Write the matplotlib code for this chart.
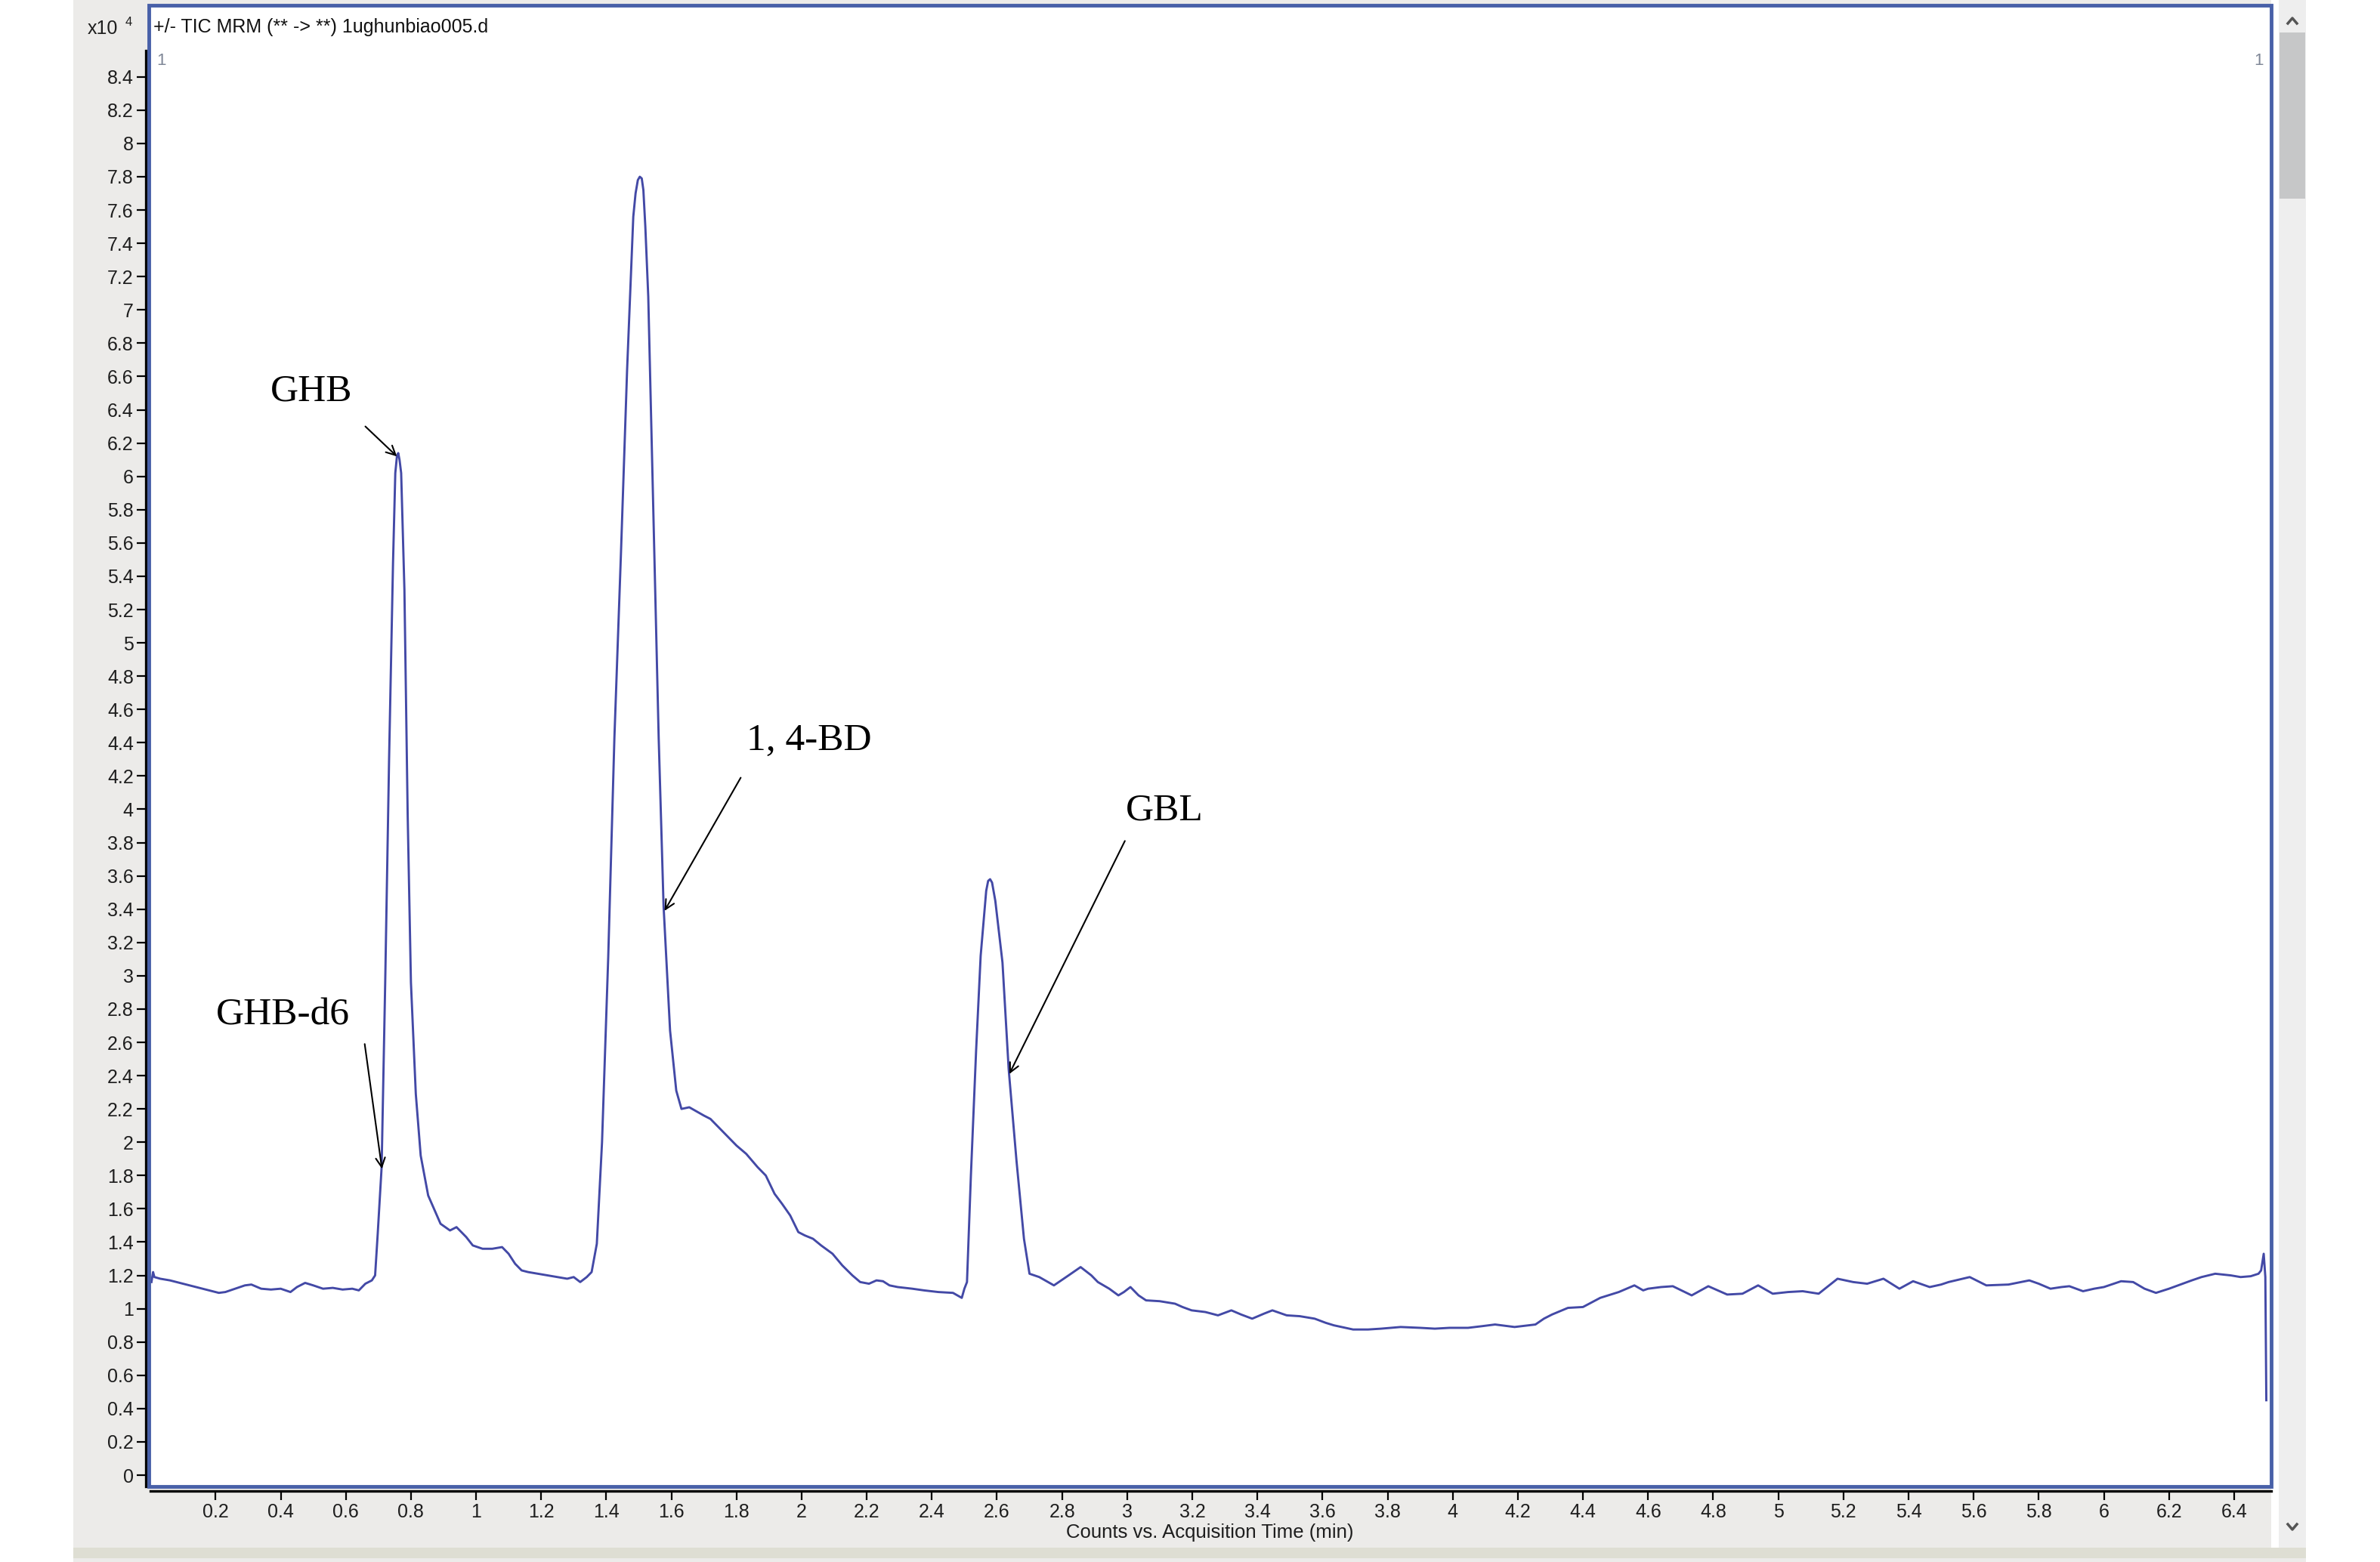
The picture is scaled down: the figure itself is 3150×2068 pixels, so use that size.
import matplotlib
matplotlib.use("Agg")
import matplotlib.pyplot as plt
from matplotlib.patches import Rectangle
from matplotlib.lines import Line2D

# TIC trace: time (min) vs counts (x10^4)
time_min = [
    0.003, 0.008, 0.012, 0.03, 0.06, 0.09, 0.12, 0.15, 0.18, 0.21, 0.23, 0.26,
    0.29, 0.31, 0.34, 0.37, 0.40, 0.43, 0.45, 0.475, 0.50, 0.53, 0.56, 0.59,
    0.62, 0.64, 0.66, 0.68, 0.69,
    # GHB / GHB-d6
    0.698, 0.71, 0.721, 0.733, 0.745, 0.752, 0.757, 0.761, 0.765, 0.77, 0.78,
    0.79, 0.80, 0.815, 0.83, 0.853, 0.891, 0.92, 0.94, 0.955, 0.97, 0.99,
    1.02, 1.05, 1.08, 1.10, 1.12, 1.14, 1.16, 1.19, 1.22, 1.25, 1.28, 1.30,
    1.32, 1.34, 1.355,
    # 1,4-BD
    1.371, 1.387, 1.406, 1.425, 1.445, 1.464, 1.483, 1.490, 1.497, 1.503,
    1.509, 1.514, 1.520, 1.529, 1.545, 1.561, 1.576, 1.596, 1.615, 1.631,
    1.655, 1.673, 1.70, 1.72,
    1.76, 1.80, 1.83, 1.865, 1.89, 1.917, 1.94, 1.965, 1.99, 2.01, 2.035,
    2.06, 2.095, 2.125, 2.156, 2.18, 2.207, 2.23, 2.25, 2.27, 2.295, 2.34,
    2.376, 2.42, 2.465, 2.492, 2.50,
    # GBL
    2.508, 2.52, 2.536, 2.55, 2.567, 2.573, 2.579, 2.585, 2.595, 2.617, 2.636,
    2.66, 2.683, 2.70, 2.73, 2.775, 2.82, 2.857, 2.89, 2.91, 2.945, 2.973,
    2.99, 3.01, 3.035, 3.058, 3.10, 3.147, 3.17, 3.198, 3.24, 3.279, 3.32,
    3.35, 3.384, 3.42, 3.446, 3.49, 3.53, 3.576, 3.61, 3.635, 3.694, 3.74,
    3.78, 3.84, 3.90, 3.945, 3.99, 4.047, 4.09, 4.13, 4.19, 4.254, 4.28,
    4.305, 4.354, 4.40, 4.453, 4.51, 4.558, 4.585, 4.60, 4.64, 4.676, 4.734,
    4.785, 4.843, 4.89, 4.938, 4.983, 5.03, 5.075, 5.124, 5.182, 5.23, 5.273,
    5.323, 5.372, 5.414, 5.465, 5.50, 5.523, 5.588, 5.639, 5.707, 5.771, 5.80,
    5.836, 5.87, 5.894, 5.936, 5.97, 6.00, 6.053, 6.09, 6.125, 6.16, 6.20,
    6.235, 6.27, 6.30, 6.342, 6.39, 6.42, 6.451, 6.475, 6.483, 6.491, 6.496,
    6.499,
]
counts = [
    1.16, 1.22, 1.19, 1.18, 1.17, 1.155, 1.14, 1.125, 1.11, 1.095, 1.10, 1.12,
    1.14, 1.145, 1.12, 1.115, 1.12, 1.10, 1.13, 1.155, 1.14, 1.12, 1.125, 1.115,
    1.12, 1.11, 1.15, 1.17, 1.20,
    1.45, 1.85, 2.96, 4.31, 5.48, 6.02, 6.12, 6.14, 6.10, 6.02, 5.32,
    3.97, 2.96, 2.29, 1.92, 1.68, 1.51, 1.47, 1.49, 1.46, 1.43, 1.38,
    1.36, 1.36, 1.37, 1.33, 1.27, 1.23, 1.22, 1.21, 1.20, 1.19, 1.18, 1.19,
    1.16, 1.19, 1.22,
    1.39, 2.00, 3.11, 4.43, 5.53, 6.64, 7.56, 7.70, 7.78, 7.80,
    7.79, 7.72, 7.50, 7.08, 5.76, 4.43, 3.42, 2.67, 2.31, 2.20,
    2.21, 2.19, 2.16, 2.14,
    2.06, 1.98, 1.93, 1.85, 1.80, 1.69, 1.63, 1.56, 1.46, 1.44, 1.42,
    1.38, 1.33, 1.26, 1.20, 1.16, 1.15, 1.17, 1.165, 1.14, 1.13, 1.12,
    1.11, 1.10, 1.095, 1.065, 1.12,
    1.16, 1.80, 2.55, 3.12, 3.51, 3.57, 3.58, 3.56, 3.45, 3.08, 2.44,
    1.89, 1.42, 1.21, 1.19, 1.14, 1.20, 1.25, 1.20, 1.16, 1.12, 1.08,
    1.10, 1.13, 1.08, 1.05, 1.045, 1.03, 1.01, 0.99, 0.98, 0.96, 0.99,
    0.965, 0.94, 0.97, 0.99, 0.96, 0.955, 0.94, 0.915, 0.90, 0.875, 0.875,
    0.88, 0.89, 0.885, 0.88, 0.885, 0.885, 0.895, 0.905, 0.89, 0.905, 0.94,
    0.965, 1.005, 1.01, 1.065, 1.10, 1.14, 1.11, 1.12, 1.13, 1.135, 1.08,
    1.135, 1.085, 1.09, 1.14, 1.09, 1.10, 1.105, 1.09, 1.18, 1.16, 1.15,
    1.18, 1.12, 1.165, 1.13, 1.145, 1.16, 1.19, 1.14, 1.145, 1.17, 1.15,
    1.12, 1.13, 1.135, 1.105, 1.12, 1.13, 1.165, 1.16, 1.12, 1.095, 1.12,
    1.145, 1.17, 1.19, 1.21, 1.20, 1.19, 1.195, 1.21, 1.23, 1.33, 1.19,
    0.45,
]

y_ticks = [0, 0.2, 0.4, 0.6, 0.8, 1, 1.2, 1.4, 1.6, 1.8, 2, 2.2, 2.4, 2.6, 2.8,
           3, 3.2, 3.4, 3.6, 3.8, 4, 4.2, 4.4, 4.6, 4.8, 5, 5.2, 5.4, 5.6, 5.8,
           6, 6.2, 6.4, 6.6, 6.8, 7, 7.2, 7.4, 7.6, 7.8, 8, 8.2, 8.4]
x_ticks = [0.2, 0.4, 0.6, 0.8, 1, 1.2, 1.4, 1.6, 1.8, 2, 2.2, 2.4, 2.6, 2.8, 3,
           3.2, 3.4, 3.6, 3.8, 4, 4.2, 4.4, 4.6, 4.8, 5, 5.2, 5.4, 5.6, 5.8, 6,
           6.2, 6.4]

# peak labels: (text, label pos, arrow tail, arrow tip)
peak_labels = [
    ("GHB", (0.494, 6.51), (0.66, 6.30), (0.757, 6.12)),
    ("GHB-d6", (0.406, 2.76), (0.658, 2.59), (0.711, 1.84)),
    ("1, 4-BD", (2.023, 4.41), (1.813, 4.19), (1.579, 3.39)),
    ("GBL", (3.114, 3.99), (2.993, 3.81), (2.638, 2.41)),
]

plt.rcParams['font.family'] = ['Liberation Sans', 'DejaVu Sans']

W, H = 3150, 2068


def fx(px):
    return px / W


def fy(py):
    return 1 - py / H


fig = plt.figure(figsize=(31.5, 20.68), dpi=100)
fig.patch.set_facecolor('white')

# --- window chrome ---
fig.add_artist(Rectangle((fx(97), 0), (3052 - 97) / W, 1, transform=fig.transFigure,
                         facecolor='#ECEBE9', edgecolor='none', zorder=-3))
fig.add_artist(Rectangle((fx(97), fy(2063)), (3052 - 97) / W, 14 / H, transform=fig.transFigure,
                         facecolor='#DEDED3', edgecolor='none', zorder=-2))
fig.add_artist(Rectangle((fx(3006), fy(2049)), 10 / W, 2049 / H, transform=fig.transFigure,
                         facecolor='white', edgecolor='none', zorder=-2))
fig.add_artist(Rectangle((fx(3016), fy(2049)), 36 / W, 2049 / H, transform=fig.transFigure,
                         facecolor='#EEEEEE', edgecolor='none', zorder=-2))
fig.add_artist(Rectangle((fx(3017), fy(263)), 34 / W, 220 / H, transform=fig.transFigure,
                         facecolor='#C6C7C8', edgecolor='none', zorder=-1))
fig.add_artist(Line2D([fx(3028), fx(3034), fx(3040)], [fy(31), fy(24), fy(31)],
                      transform=fig.transFigure, color='#555555', lw=2.5))
fig.add_artist(Line2D([fx(3028), fx(3034), fx(3040)], [fy(2018), fy(2025), fy(2018)],
                      transform=fig.transFigure, color='#555555', lw=2.5))

# --- plot area ---
ax = fig.add_axes([fx(197), fy(1968), (3006 - 197) / W, (1968 - 7) / H])
ax.set_facecolor('white')
ax.set_xlim(-0.005, 6.514)
ax.set_ylim(-0.068, 8.83)

ax.plot(time_min, counts, color='#4349A6', lw=2.1, zorder=3,
        solid_joinstyle='round')

for spine in ('top', 'right'):
    ax.spines[spine].set_visible(False)
ax.spines['left'].set_position(('outward', 3))
ax.spines['left'].set_bounds(-0.068, 8.56)
ax.spines['bottom'].set_position(('outward', 4))
ax.spines['bottom'].set_bounds(0.0, 6.514)
for spine in ('left', 'bottom'):
    ax.spines[spine].set_color('black')
    ax.spines[spine].set_linewidth(2.4)

ax.add_patch(Rectangle((0, 0), 1, 1, transform=ax.transAxes, fill=False,
                       edgecolor='#4860A8', lw=3.5, clip_on=False, zorder=5))

ax.set_yticks(y_ticks)
ax.set_yticklabels([f'{v:g}' for v in y_ticks])
ax.set_xticks(x_ticks)
ax.set_xticklabels([f'{v:g}' for v in x_ticks])
ax.tick_params(axis='both', direction='out', length=8.5, width=1.6, color='black',
               labelsize=18, labelcolor='#1e1e1e', pad=3)

for label, text_pos, tail, tip in peak_labels:
    ax.text(text_pos[0], text_pos[1], label, family='Liberation Serif', fontsize=37,
            ha='center', va='center', color='black')
    ax.annotate('', xy=tip, xytext=tail,
                arrowprops=dict(arrowstyle='->', color='black', lw=1.5,
                                mutation_scale=22, shrinkA=0, shrinkB=0))

# --- header / footer text ---
fig.text(fx(116), fy(38), 'x10', fontsize=18, ha='left', va='center', color='#1e1e1e')
fig.text(fx(166), fy(30), '4', fontsize=12, ha='left', va='center', color='#1e1e1e')
fig.text(fx(203), fy(36), '+/- TIC MRM (** -> **) 1ughunbiao005.d', fontsize=18,
         ha='left', va='center', color='#111111')
fig.text(fx(207), fy(80), '1', fontsize=16, ha='left', va='center', color='#7F8797')
fig.text(fx(2996), fy(80), '1', fontsize=16, ha='right', va='center', color='#7F8797')
fig.text(fx(1601), fy(2029), 'Counts vs. Acquisition Time (min)', fontsize=18.5,
         ha='center', va='center', color='#1e1e1e')

fig.savefig('out.png', dpi=100)
